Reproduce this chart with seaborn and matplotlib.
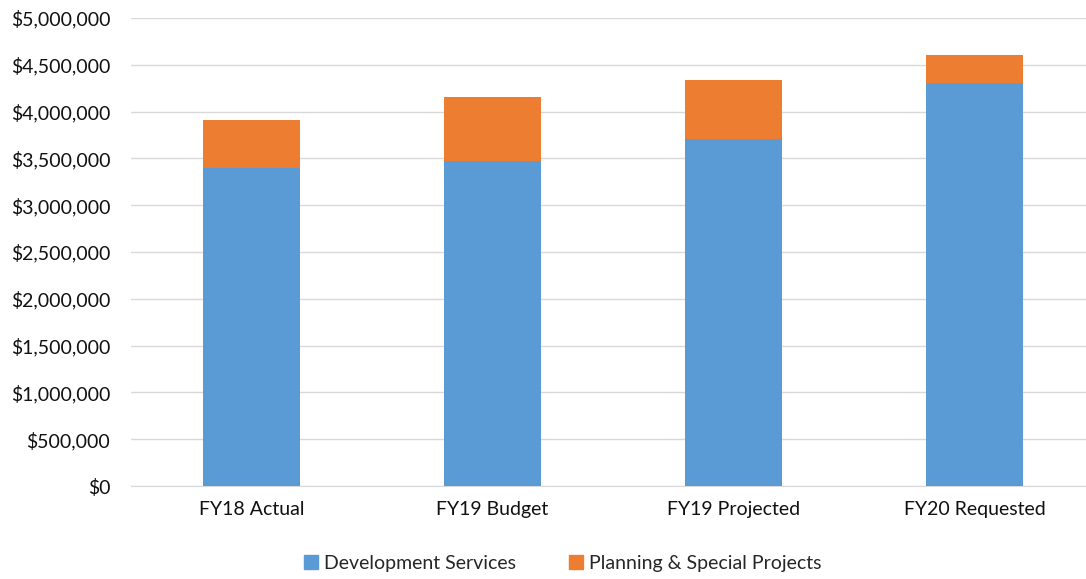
import numpy as np
import pandas as pd
import matplotlib
matplotlib.use("Agg")
import matplotlib.pyplot as plt
import matplotlib.ticker as mticker
from matplotlib.patches import Patch
import seaborn as sns

# --------------------------
# DATA
# --------------------------
categories = ["FY18 Actual", "FY19 Budget", "FY19 Projected", "FY20 Requested"]
dev_services = [3400000, 3470000, 3705000, 4305000]
planning = [512000, 689000, 632000, 304000]
series_names = ["Development Services", "Planning & Special Projects"]

df = pd.DataFrame({"category": categories, "dev": dev_services, "plan": planning})
df["total"] = df["dev"] + df["plan"]

# --------------------------
# PLOT
# --------------------------
sns.set_style("white")
plt.rcParams["font.family"] = ["Lato", "DejaVu Sans"]

blue = "#5B9BD5"
orange = "#ED7D31"
fs = 14

fig = plt.figure(figsize=(10.86, 5.79), dpi=100)
ax = fig.add_axes([131 / 1086, 1 - 486 / 579, 964 / 1086, 468 / 579])

# stacked: draw totals first, then the bottom series over it
sns.barplot(data=df, x="category", y="total", color=orange, width=0.4,
            saturation=1, linewidth=0, ax=ax, zorder=2)
sns.barplot(data=df, x="category", y="dev", color=blue, width=0.4,
            saturation=1, linewidth=0, ax=ax, zorder=3)

ax.set_ylim(0, 5000000)
ax.set_xlim(-0.5, 3.5)
ax.yaxis.set_major_locator(mticker.MultipleLocator(500000))
ax.yaxis.set_major_formatter(mticker.FuncFormatter(lambda v, p: f"${v:,.0f}"))
ax.grid(axis="y", color="#d9d9d9", linewidth=1, zorder=0)
ax.set_axisbelow(True)
ax.set_xlabel("")
ax.set_ylabel("")

for s in ["top", "right", "left"]:
    ax.spines[s].set_visible(False)
ax.spines["bottom"].set_color("#d9d9d9")
ax.tick_params(axis="both", length=0, labelsize=fs, colors="#111111")
ax.tick_params(axis="y", pad=15)
ax.tick_params(axis="x", pad=11)

handles = [Patch(color=blue), Patch(color=orange)]
fig.legend(handles, series_names, loc="center", bbox_to_anchor=(0.518, 1 - 563 / 579),
           ncol=2, frameon=False, fontsize=fs, handlelength=0.75, handleheight=0.75,
           handletextpad=0.3, columnspacing=2.7)

fig.savefig("out.png", dpi=100)
